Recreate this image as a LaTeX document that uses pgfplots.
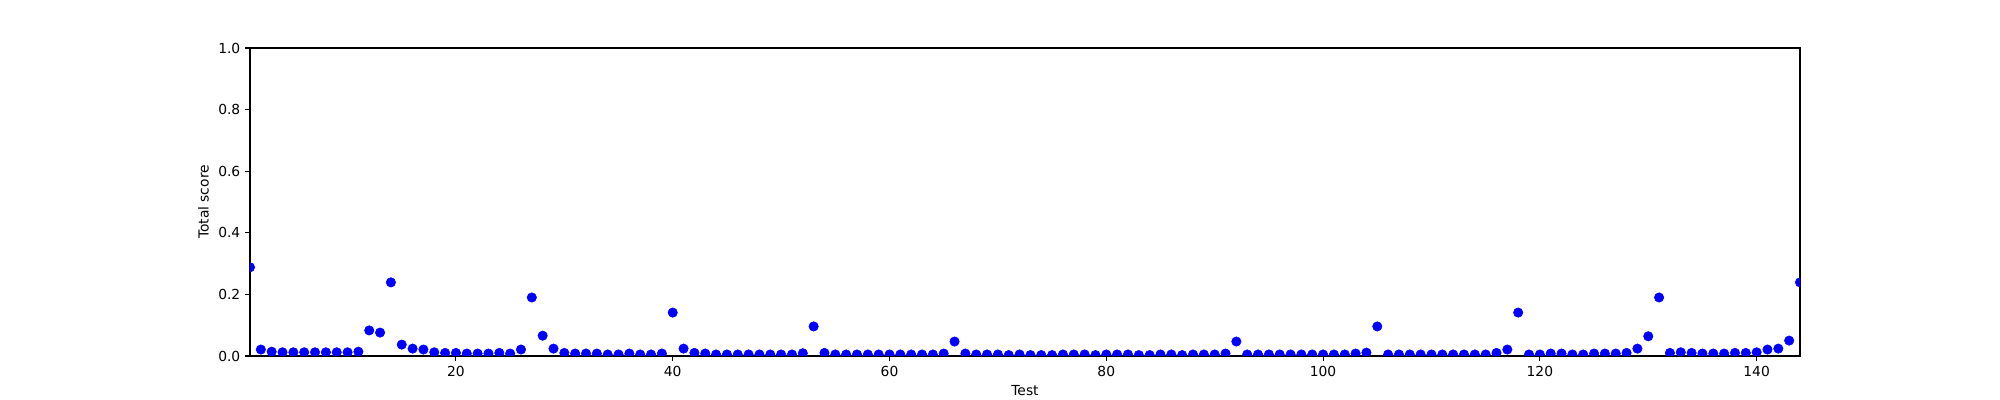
\documentclass[border=0pt]{standalone}
\usepackage{pgfplots}
\pgfplotsset{compat=1.18}
\usepackage{fontspec}
\setmainfont{DejaVu Sans}
\begin{document}
\begin{tikzpicture}
\useasboundingbox (-2.5in,-0.44in) rectangle (17.5in,3.56in);
\begin{axis}[
  at={(0,0)}, anchor=south west,
  scale only axis, width=15.5in, height=3.08in,
  xmin=1, xmax=144, ymin=0, ymax=1,
  axis line style={line width=0.8pt},
  every tick/.style={black, line width=0.8pt},
  tick align=outside, major tick length=3.5pt,
  xtick pos=bottom, ytick pos=left,
  xtick={20,40,60,80,100,120,140},
  ytick={0,0.2,0.4,0.6,0.8,1.0},
  yticklabel style={/pgf/number format/.cd, fixed, fixed zerofill, precision=1},
  /pgf/number format/assume math mode=true,
  tick label style={font=\fontsize{10}{12}\selectfont},
  label style={font=\fontsize{10}{12}\selectfont},
  xlabel={Test}, ylabel={Total score},
  clip marker paths=true,
]
\addplot[only marks, mark=*, mark size=3.4pt, color={rgb,1:red,0;green,0;blue,1}, mark options={draw=none, fill={rgb,1:red,0;green,0;blue,1}}] coordinates {
(1,0.288) (2,0.021) (3,0.014) (4,0.012) (5,0.012) (6,0.012) (7,0.012) (8,0.012) (9,0.012) (10,0.012)
(11,0.014) (12,0.083) (13,0.076) (14,0.239) (15,0.037) (16,0.024) (17,0.021) (18,0.012) (19,0.010) (20,0.010)
(21,0.008) (22,0.008) (23,0.008) (24,0.010) (25,0.008) (26,0.021) (27,0.190) (28,0.066) (29,0.024) (30,0.010)
(31,0.008) (32,0.008) (33,0.008) (34,0.005) (35,0.005) (36,0.008) (37,0.005) (38,0.005) (39,0.008) (40,0.141)
(41,0.024) (42,0.010) (43,0.008) (44,0.005) (45,0.005) (46,0.005) (47,0.005) (48,0.005) (49,0.005) (50,0.005)
(51,0.005) (52,0.009) (53,0.096) (54,0.010) (55,0.005) (56,0.005) (57,0.005) (58,0.005) (59,0.005) (60,0.005)
(61,0.005) (62,0.005) (63,0.005) (64,0.005) (65,0.008) (66,0.047) (67,0.008) (68,0.005) (69,0.005) (70,0.005)
(71,0.003) (72,0.005) (73,0.003) (74,0.003) (75,0.003) (76,0.005) (77,0.005) (78,0.005) (79,0.003) (80,0.005)
(81,0.005) (82,0.005) (83,0.003) (84,0.003) (85,0.005) (86,0.005) (87,0.003) (88,0.005) (89,0.005) (90,0.005)
(91,0.008) (92,0.047) (93,0.005) (94,0.005) (95,0.005) (96,0.005) (97,0.005) (98,0.005) (99,0.005) (100,0.005)
(101,0.005) (102,0.005) (103,0.008) (104,0.011) (105,0.096) (106,0.005) (107,0.005) (108,0.005) (109,0.005) (110,0.005)
(111,0.005) (112,0.005) (113,0.005) (114,0.005) (115,0.005) (116,0.010) (117,0.021) (118,0.141) (119,0.005) (120,0.005)
(121,0.008) (122,0.008) (123,0.005) (124,0.005) (125,0.008) (126,0.008) (127,0.008) (128,0.010) (129,0.024) (130,0.064)
(131,0.190) (132,0.010) (133,0.012) (134,0.010) (135,0.008) (136,0.008) (137,0.008) (138,0.010) (139,0.010) (140,0.012)
(141,0.021) (142,0.024) (143,0.050) (144,0.239)
};
\end{axis}
\end{tikzpicture}
\end{document}
